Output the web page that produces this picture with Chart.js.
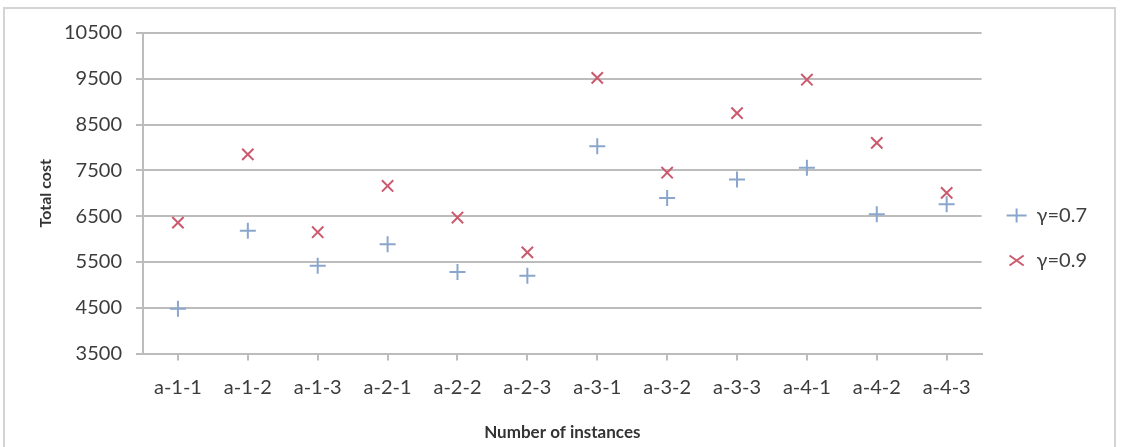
<!DOCTYPE html>
<html>
<head>
<meta charset="utf-8">
<script src="https://cdn.jsdelivr.net/npm/chart.js@4.4.0/dist/chart.umd.min.js"></script>
<style>
  html, body { margin: 0; padding: 0; background: #fff; }
  #wrap { position: relative; width: 1123px; height: 447px; }
  #frame { position: absolute; left: 3px; top: 7px; width: 1109px; height: 445px;
           border: 2px solid #d4d4d4; pointer-events: none; }
</style>
</head>
<body>
<div id="wrap">
  <canvas id="myChart" width="1123" height="447"></canvas>
  <div id="frame"></div>
</div>
<script>
// instances on the x axis
const instances = ['a-1-1', 'a-1-2', 'a-1-3', 'a-2-1', 'a-2-2', 'a-2-3',
                   'a-3-1', 'a-3-2', 'a-3-3', 'a-4-1', 'a-4-2', 'a-4-3'];

// total cost per instance
const cost07 = [4480, 6180, 5420, 5890, 5280, 5200, 8030, 6900, 7300, 7560, 6540, 6760];
const cost09 = [6360, 7850, 6150, 7160, 6470, 5710, 9520, 7450, 8750, 9480, 8100, 7010];

const seriesNames = ['γ=0.7', 'γ=0.9'];
const yMin = 3500;
const yMax = 10500;
const yStep = 1000;

const fontFam = 'Lato, "Open Sans", sans-serif';
const gridGray = '#bcbcbc';

const ctx = document.getElementById('myChart').getContext('2d');
const myChart = new Chart(ctx, {
  type: 'line',
  data: {
    labels: instances,
    datasets: [
      {
        label: seriesNames[0],
        data: cost07,
        showLine: false,
        pointStyle: 'cross',
        pointRadius: 8,
        pointBorderWidth: 2,
        borderColor: '#8aa6cc',
        backgroundColor: '#8aa6cc'
      },
      {
        label: seriesNames[1],
        data: cost09,
        showLine: false,
        pointStyle: 'crossRot',
        pointRadius: 8,
        pointBorderWidth: 2,
        borderColor: '#cc5a6e',
        backgroundColor: '#cc5a6e'
      }
    ]
  },
  options: {
    responsive: false,
    animation: false,
    layout: { padding: { left: 36, right: 26, top: 33, bottom: 4 } },
    plugins: {
      tooltip: { enabled: false },
      legend: {
        position: 'right',
        labels: {
          usePointStyle: true,
          pointStyleWidth: 20,
          boxHeight: 10,
          padding: 25,
          color: '#404040',
          font: { family: fontFam, size: 20 }
        }
      }
    },
    scales: {
      x: {
        offset: true,
        grid: { display: true, drawOnChartArea: false, offset: false,
                color: gridGray, lineWidth: 2, tickLength: 7 },
        border: { color: gridGray, width: 2 },
        ticks: { color: '#3c3c3c', padding: 15, font: { family: fontFam, size: 20 } },
        title: { display: true, text: 'Number of instances', color: '#333',
                 padding: { top: 8, bottom: 0 },
                 font: { family: fontFam, size: 17, weight: 'bold' } }
      },
      y: {
        min: yMin,
        max: yMax,
        ticks: { stepSize: yStep, color: '#3c3c3c', padding: 14,
                 font: { family: fontFam, size: 20 },
                 callback: (v) => String(v) },
        grid: { color: gridGray, lineWidth: 2, tickLength: 7 },
        border: { color: gridGray, width: 2 },
        title: { display: true, text: 'Total cost', color: '#333',
                 padding: { top: 0, bottom: 6 },
                 font: { family: fontFam, size: 16, weight: 'bold' } },
        afterFit: (scale) => { scale.width = 107; }
      }
    }
  }
});
</script>
</body>
</html>
